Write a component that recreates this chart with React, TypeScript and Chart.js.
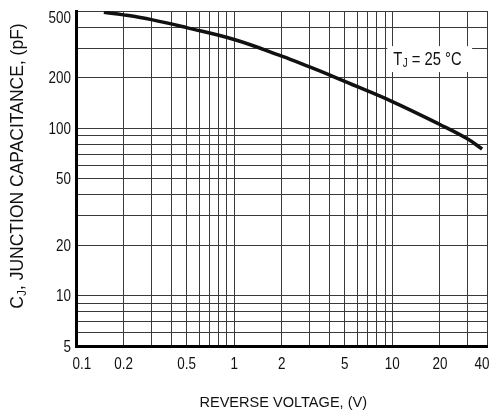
import React, { useEffect, useRef } from "react";
import { Chart, registerables } from "chart.js";

Chart.register(...registerables);

// ---- data ----
const reverseVoltage = [0.15, 0.2, 0.3, 0.5, 1, 2, 3, 4, 5, 10, 20, 30, 37];
const junctionCapacitance = [491, 474, 444, 398, 338, 269, 232, 208, 190, 144, 105, 86, 75];

const xGridValues = [0.1, 0.2, 0.3, 0.4, 0.5, 0.6, 0.7, 0.8, 0.9, 1, 2, 3, 4, 5, 6, 7, 8, 9, 10, 20, 30, 40];
const yGridValues = [5, 6, 7, 8, 9, 10, 20, 30, 40, 50, 60, 70, 80, 90, 100, 200, 300, 400, 500];
const xTickLabels = ["0.1", "0.2", "0.5", "1", "2", "5", "10", "20", "40"];
const yTickLabels = ["5", "10", "20", "50", "100", "200", "500"];

const xAxisTitle = "REVERSE VOLTAGE, (V)";
const yAxisTitleParts = ["C", "J", ", JUNCTION CAPACITANCE, (pF)"];
const tempNoteParts = ["T", "J", " = 25 \u00B0C"];
const tempNoteAnchor = { x: 10, y: 260 };

const FONT = '"Liberation Sans", Arial, Helvetica, sans-serif';
const INK = "#111";

function measure(ctx: CanvasRenderingContext2D, s: string, size: number, sx: number) {
  ctx.save();
  ctx.font = `${size}px ${FONT}`;
  const w = ctx.measureText(s).width * sx;
  ctx.restore();
  return w;
}

function drawText(
  ctx: CanvasRenderingContext2D,
  s: string,
  left: number,
  baseline: number,
  size: number,
  sx: number
) {
  ctx.save();
  ctx.font = `${size}px ${FONT}`;
  ctx.textBaseline = "alphabetic";
  ctx.textAlign = "left";
  ctx.fillStyle = INK;
  ctx.translate(left, baseline);
  ctx.scale(sx, 1);
  ctx.fillText(s, 0, 0);
  ctx.restore();
}

const textPlugin = {
  id: "textPlugin",
  afterDraw(chart: any) {
    const ctx: CanvasRenderingContext2D = chart.ctx;
    const area = chart.chartArea;
    const xs = chart.scales.x;
    const ys = chart.scales.y;

    // tick labels
    const tSize = 16;
    const tSx = 0.84;
    const tCap = 0.716 * tSize;
    yTickLabels.forEach((lab) => {
      const py = ys.getPixelForValue(Number(lab));
      const w = measure(ctx, lab, tSize, tSx);
      const base = Math.max(py + tCap / 2, area.top + tCap + 0.5);
      drawText(ctx, lab, area.left - 5 - w, base, tSize, tSx);
    });
    xTickLabels.forEach((lab, i) => {
      const px = xs.getPixelForValue(Number(lab));
      const w = measure(ctx, lab, tSize, tSx);
      let left = px - w / 2;
      if (i === 0) left = Math.max(left, area.left - 3.5);
      if (i === xTickLabels.length - 1) left = Math.min(left, area.right + 2 - w);
      drawText(ctx, lab, left, area.bottom + 12 + tCap, tSize, tSx);
    });

    // x axis title
    const xtSize = 15;
    const xtSx = 0.97;
    const xtW = measure(ctx, xAxisTitle, xtSize, xtSx);
    const cx = (area.left + area.right) / 2 + 1.5;
    drawText(ctx, xAxisTitle, cx - xtW / 2, area.bottom + 61, xtSize, xtSx);

    // y axis title (rotated, with subscript)
    const ytSize = 17.5;
    const ytSub = 12;
    const ytCap = 0.716 * ytSize;
    const w0 = measure(ctx, yAxisTitleParts[0], ytSize, 1);
    const w1 = measure(ctx, yAxisTitleParts[1], ytSub, 1);
    const w2 = measure(ctx, yAxisTitleParts[2], ytSize, 1);
    const total = w0 + w1 + w2;
    const cy = (area.top + area.bottom) / 2 - 12.5;
    ctx.save();
    ctx.translate(17 + ytCap / 2, cy);
    ctx.rotate(-Math.PI / 2);
    let pos = -total / 2;
    drawText(ctx, yAxisTitleParts[0], pos, 0, ytSize, 1);
    pos += w0;
    drawText(ctx, yAxisTitleParts[1], pos, 3, ytSub, 1);
    pos += w1;
    drawText(ctx, yAxisTitleParts[2], pos, 0, ytSize, 1);
    ctx.restore();

    // temperature note with white box
    const nSize = 18;
    const nSub = 12;
    const nSx = 0.82;
    const nCap = 0.716 * nSize;
    const nLeft = xs.getPixelForValue(tempNoteAnchor.x) + 1;
    const nBase = ys.getPixelForValue(tempNoteAnchor.y) + nCap / 2;
    const n0 = measure(ctx, tempNoteParts[0], nSize, nSx);
    const n1 = measure(ctx, tempNoteParts[1], nSub, nSx);
    const n2 = measure(ctx, tempNoteParts[2], nSize, nSx);
    ctx.save();
    ctx.fillStyle = "#fff";
    ctx.fillRect(nLeft - 6, nBase - nCap - 6, n0 + n1 + n2 + 17, nCap + 13);
    ctx.restore();
    drawText(ctx, tempNoteParts[0], nLeft, nBase, nSize, nSx);
    drawText(ctx, tempNoteParts[1], nLeft + n0 + 0.5, nBase + 2, nSub, nSx);
    drawText(ctx, tempNoteParts[2], nLeft + n0 + n1 + 0.5, nBase, nSize, nSx);
  },
};

export default function App() {
  const ref = useRef<HTMLCanvasElement>(null);

  useEffect(() => {
    const canvas = ref.current;
    if (!canvas) return;
    const chart = new Chart(canvas, {
      type: "line",
      data: {
        datasets: [
          {
            data: reverseVoltage.map((v, i) => ({ x: v, y: junctionCapacitance[i] })),
            borderColor: INK,
            borderWidth: 3.5,
            pointRadius: 0,
            fill: false,
            tension: 0.4,
          },
        ],
      },
      options: {
        responsive: false,
        animation: false,
        devicePixelRatio: 1,
        layout: { padding: { left: 76, right: 6.5, top: 11, bottom: 64 } },
        plugins: { legend: { display: false }, tooltip: { enabled: false } },
        scales: {
          x: {
            type: "logarithmic",
            min: 0.1,
            max: 40,
            afterBuildTicks: (s: any) => {
              s.ticks = xGridValues.map((v) => ({ value: v }));
            },
            ticks: { display: false },
            grid: { color: "#3a3a3a", lineWidth: 1, drawTicks: false },
            border: { display: true, color: "#000", width: 3 },
          },
          y: {
            type: "logarithmic",
            min: 5,
            max: 500,
            afterBuildTicks: (s: any) => {
              s.ticks = yGridValues.map((v) => ({ value: v }));
            },
            ticks: { display: false },
            grid: { color: "#3a3a3a", lineWidth: 1, drawTicks: false },
            border: { display: true, color: "#000", width: 3 },
          },
        },
      },
      plugins: [textPlugin],
    } as any);
    return () => chart.destroy();
  }, []);

  return (
    <div style={{ position: "fixed", left: 0, top: 0, width: 494, height: 410, background: "#fff" }}>
      <canvas ref={ref} width={494} height={410} style={{ display: "block" }} />
    </div>
  );
}
